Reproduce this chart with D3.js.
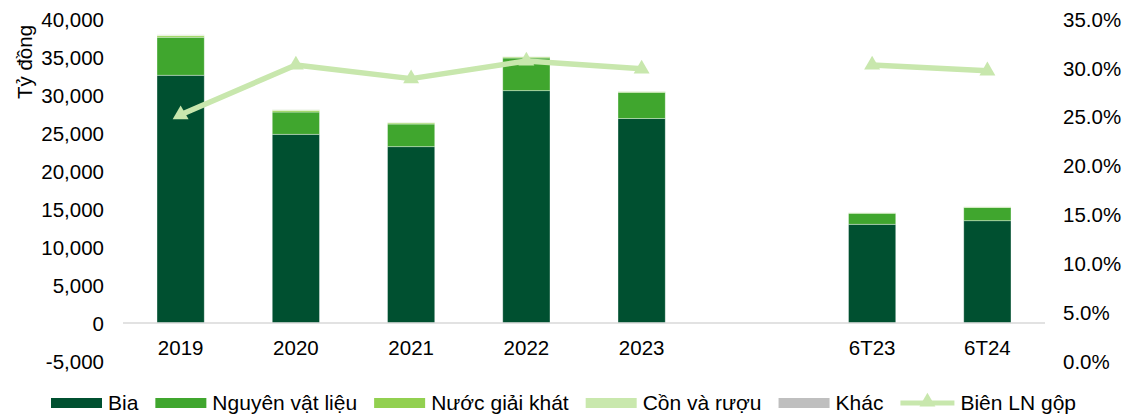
<!DOCTYPE html>
<html>
<head>
<meta charset="utf-8">
<script src="https://cdn.jsdelivr.net/npm/d3@7"></script>
<style>
  body { margin: 0; background: #fff; }
  svg { display: block; font-family: "Liberation Sans", Arial, sans-serif; }
  .tick text { fill: #000; }
</style>
</head>
<body>
<svg id="chart" width="1128" height="415"></svg>
<script>
// categories (blank slot between 2023 and the half-year columns)
const categories = ["2019", "2020", "2021", "2022", "2023", "", "6T23", "6T24"];

// revenue by segment, tỷ đồng
const bia        = [32600, 24830, 23200, 30570, 26900, null, 12990, 13460];
const nguyenVL   = [5000, 2930, 2980, 4300, 3450, null, 1450, 1750];
const nuocGK     = [200, 220, 150, 130, 100, null, 50, 60];
const conRuou    = [100, 80, 70, 50, 50, null, 30, 30];
const khac       = [20, 15, 15, 15, 10, null, 5, 5];

// gross margin, %
const bienLN = [25.2, 30.3, 28.9, 30.7, 29.9, null, 30.3, 29.7];

const leftTicks = d3.range(-5000, 40001, 5000);
const rightTicks = d3.range(0, 35.1, 5);

const seriesNames = ["Bia", "Nguyên vật liệu", "Nước giải khát", "Cồn và rượu", "Khác"];
const seriesColors = ["#005030", "#40a62e", "#92d050", "#c9e8ad", "#bfbfbf"];
const lineColor = "#c8e7ad";
const fs = 20.5;

const svg = d3.select("#chart");
const plot = { left: 123, right: 1045, top: 19, bottom: 361 };

const x = d3.scaleBand().domain(d3.range(categories.length))
  .range([plot.left, plot.right]).paddingInner(0.59).paddingOuter(0.295);
const y = d3.scaleLinear().domain([-5000, 40000]).range([plot.bottom, plot.top]);
const y2 = d3.scaleLinear().domain([0, 35]).range([plot.bottom, plot.top]);

// stacked data table
const rows = categories.map((c, i) => ({
  i,
  "Bia": bia[i] || 0,
  "Nguyên vật liệu": nguyenVL[i] || 0,
  "Nước giải khát": nuocGK[i] || 0,
  "Cồn và rượu": conRuou[i] || 0,
  "Khác": khac[i] || 0,
}));
const stacked = d3.stack().keys(seriesNames)(rows);

// left axis
const fmt = d3.format(",");
svg.append("g")
  .attr("transform", `translate(${plot.left - 19},0)`)
  .call(d3.axisLeft(y).tickValues(leftTicks).tickSize(0).tickPadding(0)
    .tickFormat(d => fmt(d).replace("−", "-")))
  .call(g => g.select(".domain").remove())
  .selectAll("text").attr("font-size", fs).attr("dy", "0.35em");

// right axis
svg.append("g")
  .attr("transform", `translate(${plot.right + 18},0)`)
  .call(d3.axisRight(y2).tickValues(rightTicks).tickSize(0).tickPadding(0)
    .tickFormat(d => d.toFixed(1) + "%"))
  .call(g => g.select(".domain").remove())
  .selectAll("text").attr("font-size", fs).attr("dy", "0.35em");

// y title
svg.append("text")
  .attr("transform", `translate(32,62) rotate(-90)`)
  .attr("text-anchor", "middle")
  .attr("font-size", fs)
  .text("Tỷ đồng");

// bars
svg.append("g").selectAll("g")
  .data(stacked)
  .join("g")
  .attr("fill", (d, k) => seriesColors[k])
  .selectAll("rect")
  .data(d => d.filter(s => s.data[seriesNames[0]] > 0))
  .join("rect")
  .attr("x", s => x(s.data.i))
  .attr("width", x.bandwidth())
  .attr("y", s => y(s[1]))
  .attr("height", s => Math.max(0, y(s[0]) - y(s[1])))
  .attr("stroke", "rgba(255,255,255,0.45)")
  .attr("stroke-width", 0.8);

// zero line
svg.append("line")
  .attr("x1", plot.left).attr("x2", plot.right)
  .attr("y1", y(0)).attr("y2", y(0))
  .attr("stroke", "#d9d9d9").attr("stroke-width", 1.5);

// category labels
svg.append("g")
  .attr("transform", `translate(0,${y(0)})`)
  .call(d3.axisBottom(x).tickSize(0).tickPadding(17).tickFormat(i => categories[i]))
  .call(g => g.select(".domain").remove())
  .selectAll("text").attr("font-size", fs);

// margin line
const cx = i => x(i) + x.bandwidth() / 2;
const line = d3.line().defined(d => d != null).x((d, i) => cx(i)).y(d => y2(d));
svg.append("path")
  .datum(bienLN)
  .attr("fill", "none")
  .attr("stroke", lineColor)
  .attr("stroke-width", 5.5)
  .attr("stroke-linejoin", "round")
  .attr("d", line);

const tri = d3.symbol().type(d3.symbolTriangle).size(110);
svg.append("g").selectAll("path")
  .data(bienLN.map((v, i) => ({ v, i })).filter(d => d.v != null))
  .join("path")
  .attr("d", tri)
  .attr("transform", d => `translate(${cx(d.i)},${y2(d.v)})`)
  .attr("fill", lineColor);

// legend
const legend = svg.append("g").attr("transform", "translate(51,403)");
let lx = 0;
const items = seriesNames.map((n, k) => ({ name: n, color: seriesColors[k], type: "rect" }))
  .concat([{ name: "Biên LN gộp", color: lineColor, type: "line" }]);
items.forEach(it => {
  const g = legend.append("g").attr("transform", `translate(${lx},0)`);
  if (it.type === "rect") {
    g.append("rect").attr("x", 0).attr("y", -5).attr("width", 51).attr("height", 10).attr("fill", it.color);
  } else {
    g.append("line").attr("x1", 0).attr("x2", 54).attr("y1", 0).attr("y2", 0)
      .attr("stroke", it.color).attr("stroke-width", 5);
    g.append("path").attr("d", tri).attr("transform", "translate(27,-1)").attr("fill", it.color);
  }
  const w = it.type === "rect" ? 51 : 54;
  const t = g.append("text").attr("x", w + 6).attr("y", 0).attr("dy", "0.35em")
    .attr("font-size", 21).text(it.name);
  lx += w + 6 + t.node().getComputedTextLength() + 17;
});
</script>
</body>
</html>
